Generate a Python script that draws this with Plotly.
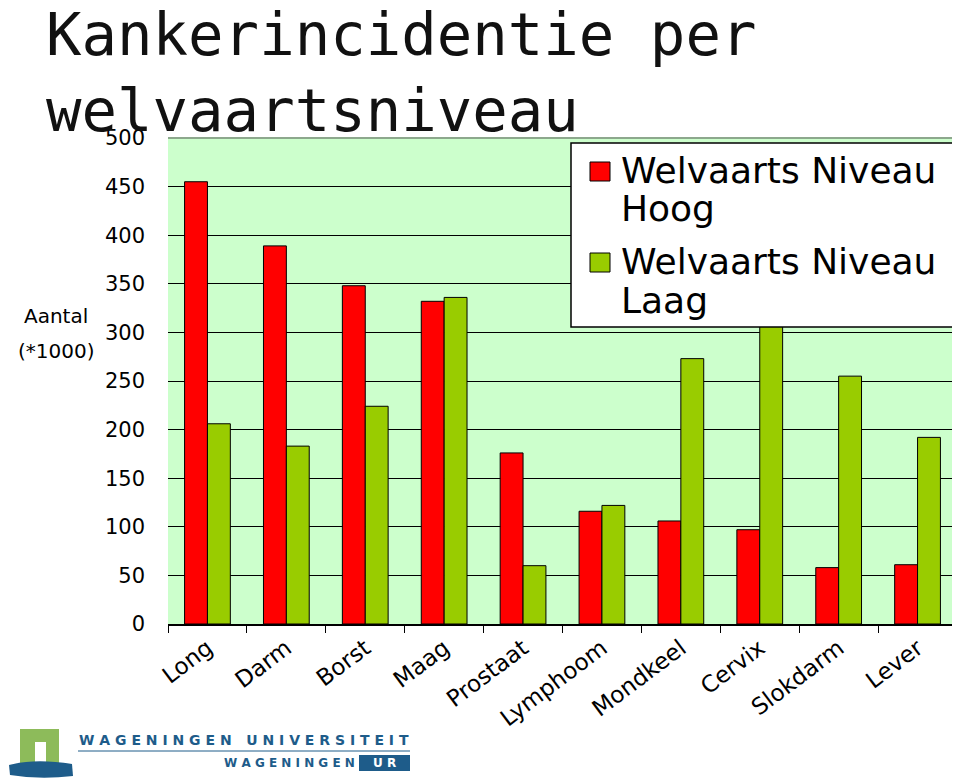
import plotly.graph_objects as go

# data (Aantal * 1000)
categories = ["Long", "Darm", "Borst", "Maag", "Prostaat", "Lymphoom",
              "Mondkeel", "Cervix", "Slokdarm", "Lever"]
hoog = [455, 389, 348, 332, 176, 116, 106, 97, 58, 61]
laag = [206, 183, 224, 336, 60, 122, 273, 318, 255, 192]
y_ticks = [0, 50, 100, 150, 200, 250, 300, 350, 400, 450, 500]
series_names = ["Welvaarts Niveau Hoog", "Welvaarts Niveau Laag"]
series_colors = ["#FF0000", "#99CC00"]

# the page puts the figure 8px in from the top-left corner (body margin),
# so the figure is made 8px smaller and positions are given in window pixels
OFF = 8
W, H = 960 - OFF, 781 - OFF
L, R, T, B = 168 - OFF, 3, 138 - OFF, 781 - 624
PW, PH = W - L - R, H - T - B


def px(x):
    return (x - OFF - L) / PW


def py(y):
    return (H - B - (y - OFF)) / PH


fig = go.Figure()
for name, vals, col in zip(series_names, [hoog, laag], series_colors):
    fig.add_trace(go.Bar(x=categories, y=vals, name=name, showlegend=False,
                         marker=dict(color=col, line=dict(color="black", width=1))))

fig.update_layout(
    width=W, height=H,
    margin=dict(l=L, r=R, t=T, b=B, autoexpand=False),
    paper_bgcolor="white", plot_bgcolor="#CCFFCC",
    barmode="group", bargap=0.42, bargroupgap=0,
    font=dict(family="DejaVu Sans, sans-serif", color="black"),
)
fig.update_xaxes(showline=True, linecolor="black", linewidth=1.5, automargin=False,
                 ticks="outside", tickson="boundaries", ticklen=7, tickcolor="black",
                 tickangle=-37, tickfont=dict(size=23), showgrid=False)
fig.update_yaxes(range=[0, 500], tickvals=y_ticks, showline=False, automargin=False,
                 gridcolor="black", gridwidth=1.2, zeroline=False,
                 tickfont=dict(size=21), ticklabelstandoff=22)

# grey top edge of plot area
fig.add_shape(type="line", xref="paper", yref="paper", x0=0, x1=1, y0=1, y1=1,
              line=dict(color="#8DA88D", width=2), layer="above")

# legend box drawn by hand so it matches the reference proportions
fig.add_shape(type="rect", xref="paper", yref="paper",
              x0=px(571), x1=px(955), y0=py(327), y1=py(143),
              fillcolor="white", line=dict(color="black", width=1.5), layer="above")
leg_font = dict(size=36, color="black")
for i, col in enumerate(series_colors):
    top = 162 + i * 91
    fig.add_shape(type="rect", xref="paper", yref="paper",
                  x0=px(590), x1=px(610), y0=py(top + 19), y1=py(top),
                  fillcolor=col, line=dict(color="black", width=1), layer="above")
    first, second = series_names[i].rsplit(" ", 1)
    for j, txt in enumerate([first, second]):
        base = 182 + i * 91 + j * 39
        fig.add_annotation(text=txt, xref="paper", yref="paper",
                           x=px(619), y=py(base - 12), xanchor="left", yanchor="middle",
                           showarrow=False, font=leg_font)

# title
title_font = dict(family="DejaVu Sans Mono, monospace", size=59, color="#111")
fig.add_annotation(text="Kankerincidentie per", xref="paper", yref="paper",
                   x=px(44), y=py(34), xanchor="left", yanchor="middle",
                   showarrow=False, font=title_font)
fig.add_annotation(text="welvaartsniveau", xref="paper", yref="paper",
                   x=px(44), y=py(111), xanchor="left", yanchor="middle",
                   showarrow=False, font=title_font)

# y axis label
for txt, yy in [("Aantal", 316), ("(*1000)", 351)]:
    fig.add_annotation(text=txt, xref="paper", yref="paper",
                       x=px(56), y=py(yy), xanchor="center", yanchor="middle",
                       showarrow=False, font=dict(size=20))

# Wageningen logo
blue = "#1E5C8A"
fig.add_shape(type="rect", xref="paper", yref="paper",
              x0=px(20), x1=px(59), y0=py(766), y1=py(729),
              fillcolor="#8DBB5A", line=dict(width=0))
fig.add_shape(type="rect", xref="paper", yref="paper",
              x0=px(35), x1=px(46), y0=py(762), y1=py(742),
              fillcolor="white", line=dict(width=0))
fig.add_shape(type="path", xref="paper", yref="paper",
              path=(f"M {px(9)},{py(765)} Q {px(35)},{py(758)} {px(72)},{py(764)} "
                    f"L {px(73)},{py(776)} Q {px(40)},{py(780)} {px(10)},{py(775)} Z"),
              fillcolor=blue, line=dict(width=0))
fig.add_annotation(text="<b>W A G E N I N G E N   U N I V E R S I T E I T</b>",
                   xref="paper", yref="paper", x=px(77), y=py(740),
                   xanchor="left", yanchor="middle", showarrow=False,
                   font=dict(size=14, color=blue))
fig.add_shape(type="line", xref="paper", yref="paper", x0=px(78), x1=px(410),
              y0=py(751), y1=py(751), line=dict(color=blue, width=1))
fig.add_annotation(text="<b>W A G E N I N G E N</b>", xref="paper", yref="paper",
                   x=px(357), y=py(763), xanchor="right", yanchor="middle",
                   showarrow=False, font=dict(size=12, color=blue))
fig.add_shape(type="rect", xref="paper", yref="paper",
              x0=px(359), x1=px(410), y0=py(771), y1=py(755),
              fillcolor=blue, line=dict(width=0))
fig.add_annotation(text="<b>U R</b>", xref="paper", yref="paper",
                   x=px(384), y=py(763), xanchor="center", yanchor="middle",
                   showarrow=False, font=dict(size=12, color="white"))

fig.write_html("out.html")
